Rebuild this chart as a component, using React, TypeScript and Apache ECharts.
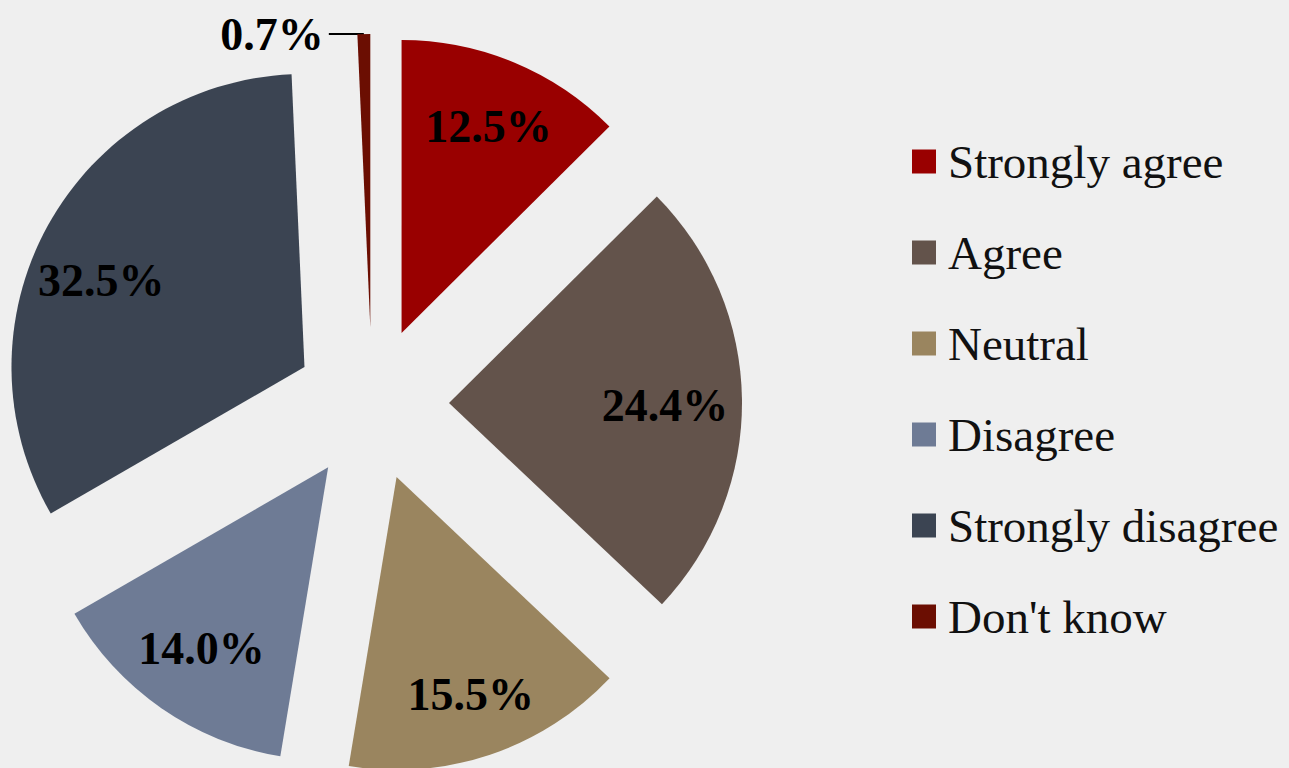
import React, { useEffect, useRef } from "react";
import * as echarts from "echarts";

const categories = ["Strongly agree", "Agree", "Neutral", "Disagree", "Strongly disagree", "Don't know"];
const values = [12.5, 24.4, 15.5, 14.0, 32.5, 0.7];
const colors = ["#990000", "#63534b", "#9a855f", "#6e7b95", "#3b4452", "#6b0e02"];
const labelNudges = [[0, 2], [-10, 5], [2, 3], [2, -5], [-5, 22], [0, 0]];

const FONT = "'Times New Roman', 'Liberation Serif', serif";

export default function App() {
  const ref = useRef<HTMLDivElement>(null);
  useEffect(() => {
    document.body.style.margin = "0";
    const chart = echarts.init(ref.current!, null, { renderer: "svg" });
    const fmt = (p: any) => `${Number(p.value).toFixed(1)}%`;
    const center = [372, 404];
    const offset = 77;
    const mainData = categories.map((name, i) => ({
      name,
      value: values[i],
      selected: true,
      itemStyle: { color: colors[i] },
      label:
        i === 5
          ? { show: true, position: "outside", padding: [0, 0, 14, 0] }
          : { show: false },
      labelLine: i === 5 ? { show: true } : { show: false },
    }));
    const labelData = categories.map((name, i) => ({
      name,
      value: values[i],
      selected: true,
      label: { show: i !== 5 },
    }));
    chart.setOption({
      animation: false,
      backgroundColor: "#efefef",
      legend: {
        orient: "vertical",
        left: 907,
        top: 133,
        icon: "rect",
        itemWidth: 24,
        itemHeight: 24,
        itemGap: 44,
        selectedMode: false,
        data: categories,
        textStyle: {
          fontFamily: FONT,
          fontSize: 47,
          lineHeight: 47,
          color: "#111",
          padding: [0, 0, 0, 7],
        },
      },
      series: [
        {
          type: "pie",
          center,
          radius: 293,
          startAngle: 90,
          clockwise: true,
          selectedMode: "multiple",
          selectedOffset: offset,
          avoidLabelOverlap: false,
          emphasis: { disabled: true },
          label: {
            formatter: fmt,
            fontFamily: FONT,
            fontSize: 46,
            fontWeight: "bold",
            color: "#000",
          },
          labelLine: {
            length: 0,
            length2: 35,
            smooth: false,
            lineStyle: { color: "#000", width: 2 },
          },
          data: mainData,
        },
        {
          type: "pie",
          center,
          radius: [153, 293],
          startAngle: 90,
          clockwise: true,
          silent: true,
          selectedMode: "multiple",
          selectedOffset: offset,
          avoidLabelOverlap: false,
          itemStyle: { color: "rgba(0,0,0,0)" },
          label: {
            position: "inside",
            formatter: fmt,
            fontFamily: FONT,
            fontSize: 46,
            fontWeight: "bold",
            color: "#000",
          },
          labelLayout: (p: any) => ({
            dx: labelNudges[p.dataIndex][0],
            dy: labelNudges[p.dataIndex][1],
          }),
          labelLine: { show: false },
          data: labelData,
        },
      ],
    });
    return () => chart.dispose();
  }, []);
  return <div ref={ref} style={{ width: 1289, height: 768 }} />;
}
